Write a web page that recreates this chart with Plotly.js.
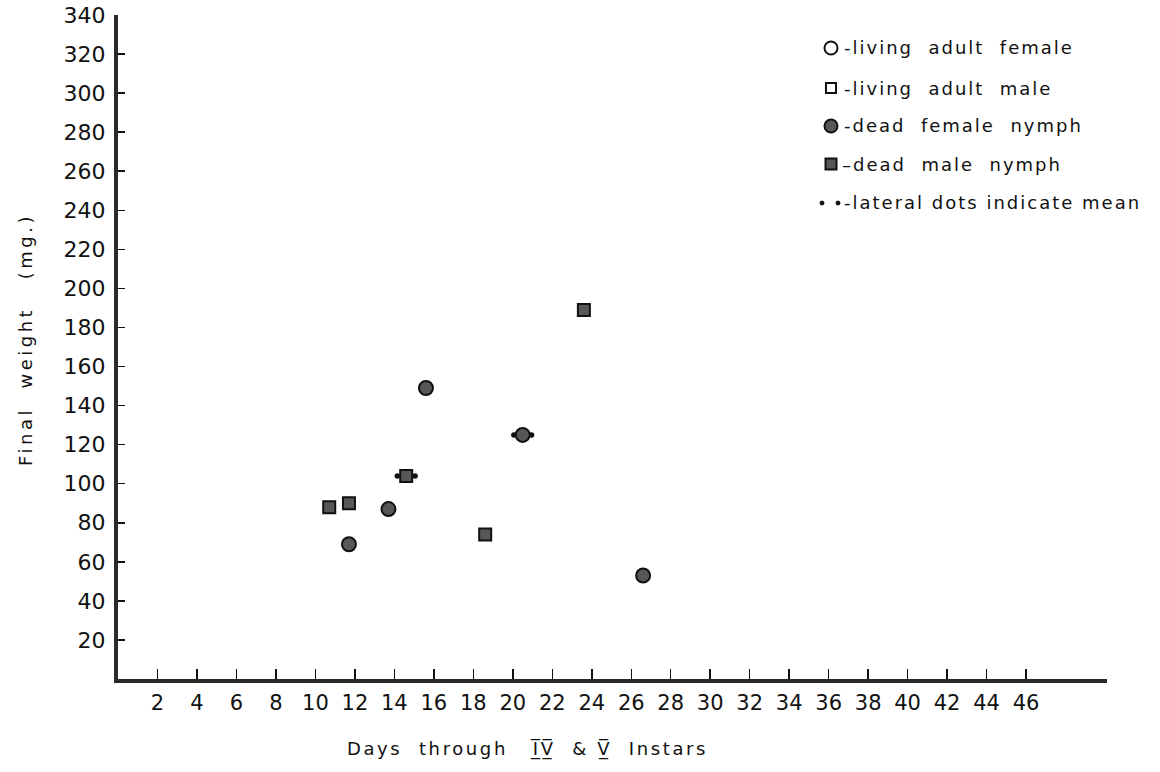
<!DOCTYPE html>
<html>
<head>
<meta charset="utf-8">
<script src="https://cdn.plot.ly/plotly-3.0.1.min.js"></script>
<style>
  html, body { margin: 0; padding: 0; background: #fff; }
  #chart { width: 1160px; height: 772px; }
</style>
</head>
<body>
<div id="chart"></div>
<script>
// ---- Data ----
const femaleNymphDays   = [11.7, 13.7, 15.6, 20.5, 26.6];
const femaleNymphWeight = [69, 87, 149, 125, 53];
const femaleIsMean      = [false, false, false, true, false];

const maleNymphDays   = [10.7, 11.7, 14.6, 18.6, 23.6];
const maleNymphWeight = [88, 90, 104, 74, 189];
const maleIsMean      = [false, false, true, false, false];

const xTickVals = [2,4,6,8,10,12,14,16,18,20,22,24,26,28,30,32,34,36,38,40,42,44,46];
const yTickVals = [20,40,60,80,100,120,140,160,180,200,220,240,260,280,300,320,340];

const legendLabels = [
  "-living\u00a0\u00a0adult\u00a0\u00a0female",
  "-living\u00a0\u00a0adult\u00a0\u00a0male",
  "-dead\u00a0\u00a0female\u00a0\u00a0nymph",
  "\u2013dead\u00a0\u00a0male\u00a0\u00a0nymph",
  "-lateral dots indicate mean"
];
const xTitle = "Days\u00a0\u00a0through\u00a0\u00a0\u00a0I\u0305\u0332V\u0305\u0332\u00a0\u00a0&\u00a0V\u0305\u0332\u00a0\u00a0Instars";
const yTitle = "Final\u00a0\u00a0weight\u00a0\u00a0\u00a0(mg.)";

// ---- Layout geometry ----
const W = 1160, H = 772;
const M = {l: 118, r: 53, t: 15, b: 93};
const PW = W - M.l - M.r, PH = H - M.t - M.b;
const px = v => (v - M.l) / PW;       // pixel x -> paper
const py = v => (H - M.b - v) / PH;   // pixel y -> paper

const FONT = "DejaVu Sans, Liberation Sans, sans-serif";
const INK = "#111";
const FILL = "#575757";

// mean lateral dots derived from data
function meanDots(xs, ys, flags) {
  const dx = [], dy = [];
  xs.forEach((x, i) => { if (flags[i]) { dx.push(x - 0.45, x + 0.45); dy.push(ys[i], ys[i]); } });
  return {dx, dy};
}
const fm = meanDots(femaleNymphDays, femaleNymphWeight, femaleIsMean);
const mm = meanDots(maleNymphDays, maleNymphWeight, maleIsMean);

const traces = [
  {
    type: "scatter", mode: "markers", name: "mean dots",
    x: fm.dx.concat(mm.dx), y: fm.dy.concat(mm.dy),
    marker: {symbol: "circle", size: 5.5, color: INK},
    showlegend: false, hoverinfo: "skip"
  },
  {
    type: "scatter", mode: "markers", name: "dead female nymph",
    x: femaleNymphDays, y: femaleNymphWeight,
    marker: {symbol: "circle", size: 14, color: FILL, line: {color: INK, width: 2}},
    showlegend: false, hoverinfo: "x+y"
  },
  {
    type: "scatter", mode: "markers", name: "dead male nymph",
    x: maleNymphDays, y: maleNymphWeight,
    marker: {symbol: "square", size: 12, color: FILL, line: {color: INK, width: 2}},
    showlegend: false, hoverinfo: "x+y"
  }
];

// legend drawn as shapes + annotations
const rowY = [48, 88, 126, 164, 203];
const symX = 831;
const shapes = [
  {type: "circle", xref: "paper", yref: "paper",
   x0: px(symX - 6.5), x1: px(symX + 6.5), y0: py(rowY[0] + 6.5), y1: py(rowY[0] - 6.5),
   line: {color: INK, width: 2}, fillcolor: "#fff"},
  {type: "rect", xref: "paper", yref: "paper",
   x0: px(symX - 5), x1: px(symX + 5), y0: py(rowY[1] + 5), y1: py(rowY[1] - 5),
   line: {color: INK, width: 2}, fillcolor: "#fff"},
  {type: "circle", xref: "paper", yref: "paper",
   x0: px(symX - 6.5), x1: px(symX + 6.5), y0: py(rowY[2] + 6.5), y1: py(rowY[2] - 6.5),
   line: {color: INK, width: 2}, fillcolor: FILL},
  {type: "rect", xref: "paper", yref: "paper",
   x0: px(symX - 5.5), x1: px(symX + 5.5), y0: py(rowY[3] + 5.5), y1: py(rowY[3] - 5.5),
   line: {color: INK, width: 2}, fillcolor: FILL},
  {type: "circle", xref: "paper", yref: "paper",
   x0: px(820), x1: px(824), y0: py(rowY[4] + 2), y1: py(rowY[4] - 2),
   line: {color: INK, width: 1}, fillcolor: INK},
  {type: "circle", xref: "paper", yref: "paper",
   x0: px(836), x1: px(840), y0: py(rowY[4] + 2), y1: py(rowY[4] - 2),
   line: {color: INK, width: 1}, fillcolor: INK}
];

const annFont = {family: FONT, size: 18, color: INK};
const annotations = legendLabels.map((t, i) => ({
  xref: "paper", yref: "paper", x: px(i === 3 ? 840 : 842), y: py(rowY[i]),
  xanchor: "left", yanchor: "middle", showarrow: false,
  text: '<span style="letter-spacing:2px">' + t + '</span>', font: annFont
}));
annotations.push({
  xref: "paper", yref: "paper", x: px(345), y: py(749),
  xanchor: "left", yanchor: "middle", showarrow: false,
  text: '<span style="letter-spacing:2.6px">' + xTitle + '</span>', font: annFont
});
annotations.push({
  xref: "paper", yref: "paper", x: px(25), y: py(340),
  xanchor: "center", yanchor: "middle", showarrow: false, textangle: -90,
  text: '<span style="letter-spacing:3.5px">' + yTitle + '</span>', font: annFont
});

const layout = {
  width: W, height: H,
  margin: M,
  paper_bgcolor: "#fff", plot_bgcolor: "#fff",
  showlegend: false,
  xaxis: {
    range: [0, 50.1], showgrid: false, zeroline: false,
    showline: true, linecolor: "#2a2a2a", linewidth: 4,
    tickmode: "array", tickvals: xTickVals, ticktext: xTickVals.map(String),
    ticks: "inside", ticklen: 10, tickwidth: 1.5, tickcolor: INK,
    ticklabelstandoff: 2,
    tickfont: {family: FONT, size: 21, color: INK}
  },
  yaxis: {
    range: [0, 340], showgrid: false, zeroline: false,
    showline: true, linecolor: "#2a2a2a", linewidth: 4,
    tickmode: "array", tickvals: yTickVals, ticktext: yTickVals.map(String),
    ticks: "inside", ticklen: 7, tickwidth: 1.5, tickcolor: INK,
    ticklabelstandoff: 4,
    tickfont: {family: FONT, size: 22, color: INK}
  },
  shapes: shapes,
  annotations: annotations
};

Plotly.newPlot("chart", traces, layout, {displayModeBar: false, staticPlot: true});
</script>
</body>
</html>
